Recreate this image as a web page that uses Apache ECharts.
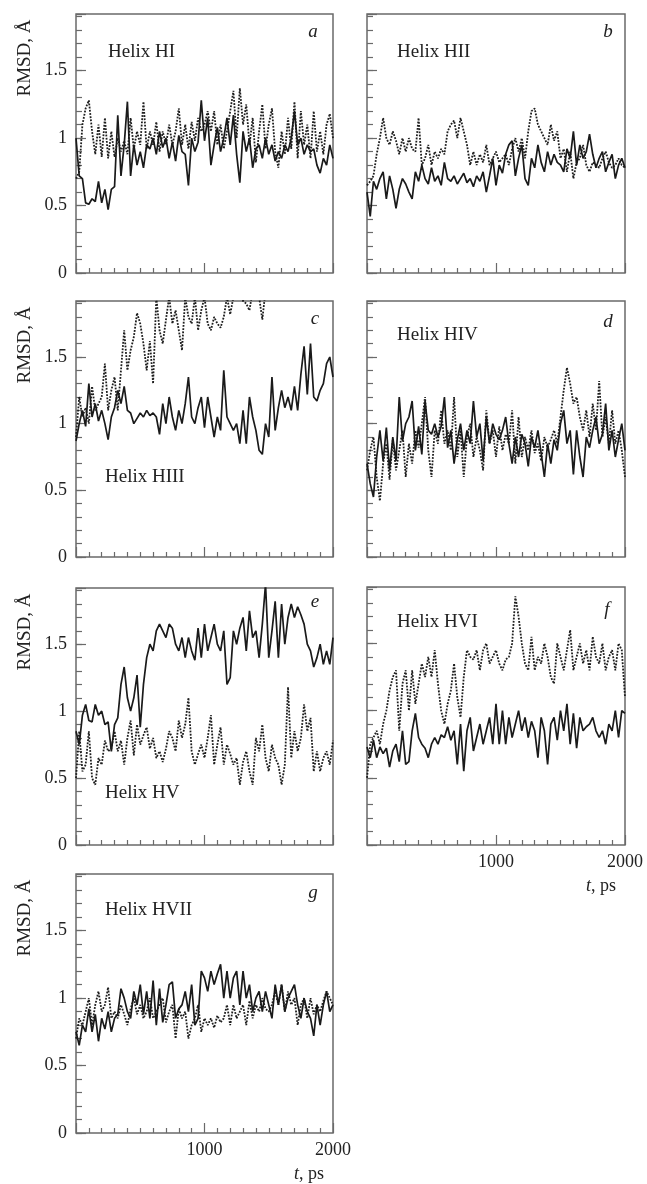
<!DOCTYPE html>
<html><head><meta charset="utf-8">
<script src="https://cdn.jsdelivr.net/npm/echarts@6/dist/echarts.min.js"></script>
<style>html,body{margin:0;padding:0;background:#fff}#c{width:647px;height:1184px}</style>
</head><body><div id="c"></div>
<script>
// ---------------- DATA ----------------
const TIME_STEP = 25;            // ps between samples (t = 0 … 2000)
const X_TICK_LABELS = [1000, 2000];
const Y_TICK_LABELS = [0, 0.5, 1, 1.5];
const PANEL_LETTERS = ['a', 'b', 'c', 'd', 'e', 'f', 'g'];
const HELIX_NAMES = ['Helix HI', 'Helix HII', 'Helix HIII', 'Helix HIV', 'Helix HV', 'Helix HVI', 'Helix HVII'];

const solidA = [1.00,0.72,0.70,0.52,0.51,0.55,0.53,0.68,0.52,0.62,
 0.47,0.62,0.64,1.17,0.72,0.95,1.27,0.72,0.95,0.80,
 0.90,0.78,0.95,0.92,1.00,0.88,1.05,0.93,1.00,0.85,
 0.97,0.83,1.02,0.90,0.88,0.65,1.00,0.90,0.97,1.28,
 0.98,1.15,0.80,0.95,1.08,0.90,1.00,1.15,0.95,1.17,
 0.88,0.67,1.05,0.90,1.00,0.78,0.92,0.95,0.85,1.00,
 0.88,0.95,0.83,0.90,0.85,0.95,0.90,1.00,1.20,0.95,
 1.00,0.88,0.95,0.90,0.92,0.80,0.74,0.85,0.80,0.95,0.85];
const dottedA = [0.70,0.75,1.10,1.22,1.28,1.05,0.88,1.10,0.86,1.15,
 0.85,1.05,0.86,1.00,0.90,0.98,0.88,1.15,0.92,1.05,
 0.95,1.27,0.92,1.05,0.95,1.12,0.90,1.05,0.95,1.10,
 0.95,1.05,1.22,0.95,1.10,0.92,1.12,0.98,1.15,1.05,
 1.10,1.20,1.05,1.20,0.95,1.10,0.92,1.05,1.20,1.35,
 1.00,1.37,1.10,1.25,0.95,1.15,0.82,1.05,1.25,0.92,
 1.10,1.22,0.90,0.78,1.05,0.88,1.15,0.92,1.27,0.85,
 1.20,0.95,1.10,0.85,1.20,0.90,1.05,0.88,1.10,1.18,1.00];

const solidB = [0.60,0.42,0.68,0.62,0.70,0.75,0.55,0.72,0.62,0.48,
 0.62,0.70,0.66,0.60,0.55,0.75,0.68,0.80,0.70,0.66,
 0.78,0.68,0.72,0.65,0.82,0.70,0.68,0.72,0.66,0.70,
 0.74,0.67,0.70,0.64,0.72,0.68,0.75,0.60,0.72,0.85,
 0.65,0.80,0.74,0.88,0.95,0.98,0.72,0.85,0.95,0.70,
 0.65,0.85,0.78,0.95,0.82,0.75,0.90,0.80,0.88,0.82,
 0.80,0.75,0.92,0.85,1.05,0.80,0.95,0.85,0.90,1.03,
 0.88,0.78,0.85,0.90,0.75,0.82,0.88,0.70,0.80,0.85,0.78];
const dottedB = [0.65,0.68,0.72,0.88,1.00,1.15,1.00,0.95,1.05,0.98,
 0.88,1.00,0.90,1.00,0.92,0.90,1.15,0.80,0.85,0.95,
 0.80,0.90,0.85,0.92,0.88,1.05,1.10,1.13,1.00,1.15,
 1.05,0.95,0.80,0.90,0.80,0.88,0.82,0.95,0.80,0.85,
 0.90,0.82,0.85,0.88,0.80,0.92,1.00,0.90,1.00,0.85,
 1.05,1.20,1.22,1.10,1.05,1.00,0.95,1.10,0.98,1.05,
 0.85,0.92,0.75,0.90,0.70,0.82,0.85,0.95,0.80,0.75,
 0.82,0.80,0.78,0.85,0.90,0.82,0.78,0.80,0.85,0.80,0.78];

const solidC = [0.87,1.00,1.10,0.98,1.30,1.05,1.15,1.02,1.10,1.00,
 0.88,1.05,1.12,1.25,1.15,1.28,1.10,1.08,1.00,1.04,
 1.08,1.05,1.10,1.06,1.08,1.05,0.92,1.15,1.00,1.20,
 1.05,0.95,1.10,1.00,1.15,1.35,1.05,1.00,1.12,1.20,
 0.97,1.20,1.05,0.90,1.05,0.95,1.40,1.05,1.00,0.95,
 1.00,0.85,1.10,0.85,1.20,1.05,0.95,0.80,0.77,1.00,
 0.90,1.35,0.95,1.12,1.25,1.12,1.20,1.10,1.28,1.10,
 1.37,1.58,1.22,1.60,1.20,1.17,1.25,1.30,1.45,1.50,1.35];
const dottedC = [0.90,1.20,1.05,1.12,1.00,1.28,1.10,1.15,1.20,1.45,
 1.10,1.25,1.35,1.10,1.40,1.70,1.40,1.55,1.65,1.83,
 1.75,1.60,1.40,1.62,1.30,1.95,1.70,1.60,1.78,1.95,
 1.75,1.85,1.70,1.55,1.95,1.80,1.75,1.95,1.70,1.85,
 1.95,1.75,1.70,1.80,1.75,1.72,1.80,1.95,1.82,1.95,
 2.00,2.05,1.92,1.90,1.85,2.00,2.05,1.95,1.78,2.00,
 2.05,2.10,2.00,2.05,2.10,2.00,2.10,2.05,2.15,2.05,
 2.10,2.15,2.05,2.10,2.20,2.10,2.15,2.05,2.10,2.15,2.10];

const solidD = [0.70,0.55,0.45,0.75,0.95,0.72,0.97,0.65,0.90,0.72,
 1.20,0.87,1.00,1.05,1.17,0.80,0.98,0.77,1.17,0.95,
 0.92,1.00,0.90,0.98,1.20,0.82,0.95,0.70,0.88,1.00,
 0.80,0.95,0.85,1.17,0.90,1.00,0.72,1.05,0.85,1.00,
 0.92,0.88,0.95,1.05,0.85,0.70,0.90,0.75,0.92,0.85,
 0.68,0.90,0.82,0.95,0.78,0.60,0.85,0.70,0.88,0.80,
 1.00,1.10,0.85,0.95,0.62,0.95,0.75,0.60,0.90,0.82,
 0.95,1.05,0.85,0.92,1.15,0.80,0.95,0.75,0.88,1.00,0.80];
const dottedD = [0.65,0.80,0.90,0.60,0.42,0.70,0.85,0.58,0.88,0.65,
 0.80,0.95,0.60,0.85,0.70,0.95,0.82,1.00,1.20,0.80,
 0.60,0.95,0.85,1.10,0.85,0.95,0.80,1.20,0.75,0.95,
 0.60,0.90,1.00,0.75,0.90,0.80,0.65,1.10,0.85,0.95,
 0.75,0.98,0.80,0.92,0.85,1.10,0.70,1.05,0.75,0.90,
 0.80,0.95,0.78,0.85,0.72,0.90,0.82,0.88,0.95,0.85,
 1.05,1.25,1.42,1.30,1.15,1.20,1.05,0.95,1.10,0.90,
 1.15,0.95,1.32,0.90,1.05,0.85,1.10,0.85,0.95,0.80,0.60];

const solidE = [0.85,0.75,0.97,1.05,0.93,0.92,1.05,0.97,1.00,0.90,
 0.92,0.70,0.90,0.95,1.20,1.33,1.10,1.00,1.10,1.27,
 0.88,1.20,1.40,1.50,1.45,1.60,1.65,1.60,1.55,1.65,
 1.62,1.50,1.45,1.55,1.40,1.55,1.45,1.38,1.62,1.40,
 1.65,1.45,1.55,1.65,1.50,1.45,1.60,1.20,1.25,1.60,
 1.50,1.62,1.70,1.45,1.75,1.55,1.60,1.40,1.65,1.95,
 1.40,1.60,1.82,1.40,1.80,1.50,1.70,1.80,1.70,1.78,
 1.72,1.65,1.50,1.45,1.33,1.40,1.50,1.35,1.45,1.35,1.55];
const dottedE = [0.50,0.85,0.55,0.60,0.85,0.50,0.45,0.65,0.60,0.78,
 0.70,0.72,0.85,0.70,0.78,0.60,0.80,0.93,0.67,0.90,
 0.75,0.82,0.88,0.72,0.80,0.65,0.70,0.62,0.72,0.85,
 0.80,0.70,0.93,0.80,0.90,1.10,0.70,0.60,0.68,0.75,
 0.65,0.80,0.97,0.60,0.75,0.88,0.60,0.75,0.68,0.60,
 0.65,0.45,0.62,0.70,0.55,0.45,0.80,0.70,0.90,0.65,
 0.55,0.75,0.65,0.60,0.45,0.60,1.18,0.65,0.85,0.70,
 0.80,1.05,0.85,0.95,0.55,0.70,0.55,0.65,0.70,0.60,0.78];

const solidF = [0.73,0.65,0.78,0.65,0.73,0.68,0.72,0.58,0.70,0.75,
 0.62,0.85,0.60,0.62,0.85,0.98,0.80,0.75,0.72,0.65,
 0.75,0.80,0.75,0.82,0.80,0.88,0.78,0.85,0.60,0.90,
 0.55,0.85,0.95,0.70,0.80,0.90,0.75,0.85,0.95,0.75,
 1.05,0.75,1.00,0.75,0.95,0.80,0.90,1.00,0.85,0.95,
 0.80,0.92,0.85,0.65,0.95,0.85,0.60,0.90,0.95,0.78,
 1.00,0.85,1.05,0.75,0.98,0.72,0.95,0.85,0.88,0.90,
 0.95,0.85,0.80,0.85,0.75,0.90,0.85,1.00,0.80,1.00,0.98];
const dottedF = [0.50,0.75,0.80,0.85,0.75,0.90,1.00,1.15,1.25,1.30,
 0.85,1.20,1.30,1.00,1.30,1.05,1.20,1.35,1.25,1.40,
 1.25,1.45,1.20,1.00,0.90,1.05,1.15,1.35,1.10,0.95,
 1.25,1.45,1.40,1.38,1.45,1.30,1.45,1.50,1.35,1.40,
 1.45,1.35,1.30,1.38,1.40,1.50,1.85,1.70,1.50,1.35,
 1.30,1.55,1.30,1.40,1.35,1.50,1.40,1.25,1.20,1.50,
 1.40,1.30,1.45,1.60,1.30,1.40,1.50,1.35,1.45,1.30,
 1.55,1.40,1.35,1.50,1.30,1.40,1.45,1.30,1.50,1.45,1.10];

const solidG = [0.75,0.65,0.80,0.75,0.92,0.75,0.88,0.68,0.85,0.77,
 0.90,0.75,0.85,0.88,1.07,1.00,0.90,0.85,1.05,0.95,
 1.10,0.88,1.05,0.85,1.13,0.80,1.07,0.82,0.95,1.10,
 1.12,0.85,0.92,0.95,1.05,0.90,1.10,0.80,0.85,1.20,
 1.15,1.05,1.20,1.10,1.18,1.25,1.00,1.20,1.00,1.15,
 1.20,0.95,1.20,1.00,1.10,0.90,1.00,1.05,0.90,1.05,
 0.95,0.85,1.10,0.95,1.10,0.90,1.00,1.05,1.10,0.95,
 0.85,1.00,0.90,0.85,0.72,0.95,0.80,0.95,1.05,0.90,0.95];
const dottedG = [0.70,0.85,0.80,0.90,1.00,0.80,0.95,1.05,0.90,0.95,
 1.08,0.85,0.90,0.85,0.95,0.88,0.80,0.92,1.00,0.88,
 0.95,0.85,0.90,1.00,0.85,0.90,0.95,1.00,0.82,0.90,
 0.95,0.70,0.92,0.85,0.90,0.70,0.80,0.85,0.95,0.75,
 0.85,0.80,0.85,0.78,0.87,0.82,0.85,0.95,0.80,0.95,
 0.85,0.90,0.95,0.80,0.98,0.85,0.95,0.90,1.00,0.92,
 0.90,0.95,1.05,0.95,1.10,0.90,1.05,0.95,1.00,0.80,
 0.95,1.00,0.85,1.00,0.88,0.95,0.90,0.98,1.05,1.00,0.95];

const SOLID = [solidA, solidB, solidC, solidD, solidE, solidF, solidG];
const DOTTED = [dottedA, dottedB, dottedC, dottedD, dottedE, dottedF, dottedG];

// ---------------- LAYOUT ----------------
const GRIDS = [
  {left: 76,  top: 14,  width: 257, height: 259},
  {left: 367, top: 14,  width: 258, height: 259},
  {left: 76,  top: 301, width: 257, height: 256},
  {left: 367, top: 301, width: 258, height: 256},
  {left: 76,  top: 588, width: 257, height: 257},
  {left: 367, top: 587, width: 258, height: 258},
  {left: 76,  top: 874, width: 257, height: 259}
];
const HELIX_POS = [[108, 52], [397, 52], [105, 477], [397, 335], [105, 793], [397, 622], [105, 910]];
const LETTER_POS = [[313, 32], [608, 32], [315, 319], [608, 322], [315, 602], [607, 610], [313, 893]];
const LEFT_PANELS = [0, 2, 4, 6];
const BOTTOM_PANELS = [5, 6];
const Y_MAX = 1.92;
const FONT = '"Liberation Serif", "DejaVu Serif", serif';
const FRAME = '#6a6a6a';

function toPairs(arr) { return arr.map((v, i) => [i * TIME_STEP, v]); }

const grid = [], xAxis = [], yAxis = [], series = [], graphic = [];
GRIDS.forEach((g, p) => {
  grid.push(Object.assign({show: true, borderColor: FRAME, borderWidth: 1.5, backgroundColor: 'transparent', containLabel: false, outerBoundsMode: 'none'}, g));
  const bottom = BOTTOM_PANELS.includes(p);
  xAxis.push({
    gridIndex: p, type: 'value', min: 0, max: 2000, interval: 1000,
    axisLine: {show: false}, splitLine: {show: false},
    axisTick: {show: true, inside: true, length: 10, lineStyle: {color: FRAME, width: 1.2}},
    minorTick: {show: true, splitNumber: 10, length: 5, lineStyle: {color: FRAME, width: 1.2}},
    minorSplitLine: {show: false},
    axisLabel: {show: bottom, margin: 8, fontFamily: FONT, fontSize: 18, color: '#222',
      formatter: v => X_TICK_LABELS.includes(v) ? String(v) : ''}
  });
  const left = LEFT_PANELS.includes(p);
  yAxis.push({
    gridIndex: p, type: 'value', min: 0, max: Y_MAX, interval: 0.1, position: 'left',
    axisLine: {show: false}, splitLine: {show: false},
    axisTick: {show: true, inside: true, length: 6, lineStyle: {color: FRAME, width: 1.2}},
    axisLabel: {show: false}
  });
  yAxis.push({
    gridIndex: p, type: 'value', min: 0, max: Y_MAX, interval: 0.5, position: 'left', offset: 0,
    axisLine: {show: false}, splitLine: {show: false},
    axisTick: {show: true, inside: true, length: 10, lineStyle: {color: FRAME, width: 1.2}},
    axisLabel: {show: left, margin: 9, fontFamily: FONT, fontSize: 18, color: '#222',
      formatter: v => Y_TICK_LABELS.some(t => Math.abs(t - v) < 1e-6) ? String(+v.toFixed(1)) : ''}
  });
  series.push({
    type: 'line', xAxisIndex: p, yAxisIndex: 2 * p + 1, data: toPairs(DOTTED[p]),
    showSymbol: false, symbol: 'none', clip: true, silent: true,
    lineStyle: {color: '#1e1e1e', width: 1.8, type: [1.8, 1.4]}
  });
  series.push({
    type: 'line', xAxisIndex: p, yAxisIndex: 2 * p + 1, data: toPairs(SOLID[p]),
    showSymbol: false, symbol: 'none', clip: true, silent: true,
    lineStyle: {color: '#1a1a1a', width: 1.7, type: 'solid'}
  });
  graphic.push({type: 'text', x: HELIX_POS[p][0], y: HELIX_POS[p][1], z: 100,
    style: {text: HELIX_NAMES[p], fontFamily: FONT, fontSize: 19, fill: '#222',
      textAlign: 'left', textVerticalAlign: 'middle', align: 'left', verticalAlign: 'middle'}});
  graphic.push({type: 'text', x: LETTER_POS[p][0], y: LETTER_POS[p][1], z: 100,
    style: {text: PANEL_LETTERS[p], fontFamily: FONT, fontSize: 19, fontStyle: 'italic', fill: '#222',
      textAlign: 'center', textVerticalAlign: 'middle', align: 'center', verticalAlign: 'middle'}});
  if (left) {
    graphic.push({type: 'text', x: 25, y: g.top + 44, rotation: Math.PI / 2, z: 100,
      style: {text: 'RMSD, Å', fontFamily: FONT, fontSize: 19, fill: '#222',
        textAlign: 'center', textVerticalAlign: 'middle', align: 'center', verticalAlign: 'middle'}});
  }
  if (bottom) {
    graphic.push({type: 'text', x: g.left + g.width - 24, y: g.top + g.height + 41, z: 100,
      style: {text: '{i|t}, ps', fontFamily: FONT, fontSize: 18, fill: '#222',
        rich: {i: {fontFamily: FONT, fontSize: 18, fontStyle: 'italic', fill: '#222'}},
        textAlign: 'center', textVerticalAlign: 'middle', align: 'center', verticalAlign: 'middle'}});
  }
});

const chart = echarts.init(document.getElementById('c'), null, {renderer: 'canvas'});
chart.setOption({animation: false, backgroundColor: '#fff', grid, xAxis, yAxis, series, graphic});
</script></body></html>
